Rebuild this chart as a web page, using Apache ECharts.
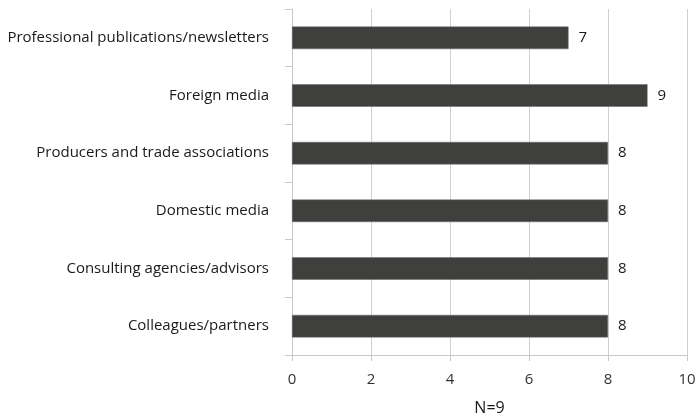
<!DOCTYPE html>
<html>
<head>
<meta charset="utf-8">
<script src="https://cdn.jsdelivr.net/npm/echarts@6/dist/echarts.min.js"></script>
<style>html,body{margin:0;padding:0;background:#fff}#c{width:697px;height:416px}</style>
</head>
<body>
<div id="c"></div>
<script>
const categories = [
  "Professional publications/newsletters",
  "Foreign media",
  "Producers and trade associations",
  "Domestic media",
  "Consulting agencies/advisors",
  "Colleagues/partners"
];
const values = [7, 9, 8, 8, 8, 8];
const xTicks = { min: 0, max: 10, interval: 2 };
const axisTitle = "N=9";

const chart = echarts.init(document.getElementById('c'), null, { renderer: 'canvas' });
const font = "'Open Sans', 'Noto Sans', sans-serif";
chart.setOption({
  animation: false,
  backgroundColor: '#ffffff',
  grid: { left: 292, right: 10, top: 9, bottom: 61, containLabel: false, outerBoundsMode: 'none' },
  xAxis: {
    type: 'value',
    min: xTicks.min, max: xTicks.max, interval: xTicks.interval,
    name: axisTitle,
    nameLocation: 'middle',
    nameGap: 45,
    nameTextStyle: { color: '#1a1a1a', fontSize: 16, fontFamily: font },
    axisLine: { show: true, lineStyle: { color: '#c8c8c8', width: 1 } },
    axisTick: { show: true, length: 6, lineStyle: { color: '#c8c8c8' } },
    axisLabel: { color: '#333333', fontSize: 15, fontFamily: font, margin: 17 },
    splitLine: { show: true, lineStyle: { color: '#d0d0d0', width: 1 } }
  },
  yAxis: {
    type: 'category',
    data: categories,
    inverse: true,
    axisLine: { show: true, lineStyle: { color: '#c8c8c8', width: 1 } },
    axisTick: { show: true, length: 7, alignWithLabel: false, lineStyle: { color: '#c8c8c8' } },
    axisLabel: { color: '#1a1a1a', fontSize: 15, fontFamily: font, margin: 23 },
    splitLine: { show: false }
  },
  series: [{
    type: 'bar',
    data: values,
    barWidth: '39%',
    itemStyle: { color: '#3f3f3e', borderColor: '#6a6a6a', borderWidth: 0.5 },
    label: {
      show: true, position: 'right', distance: 10,
      color: '#1a1a1a', fontSize: 15, fontFamily: font
    }
  }]
});
</script>
</body>
</html>
